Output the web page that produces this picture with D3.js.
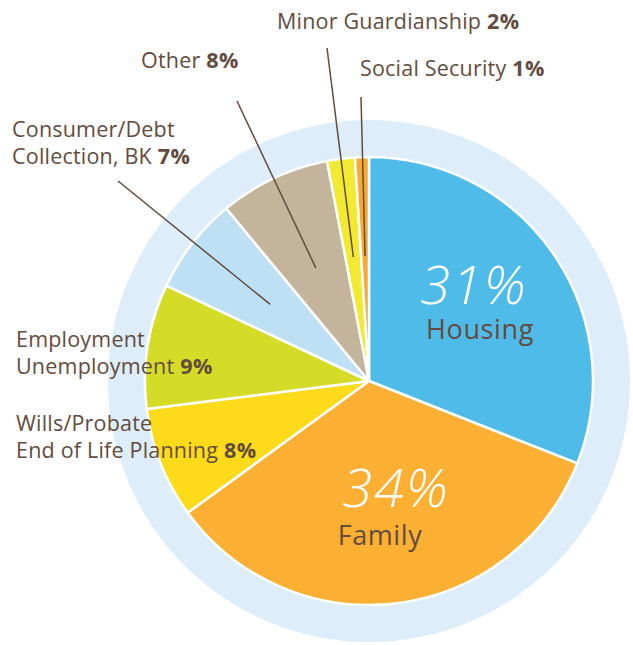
<!DOCTYPE html>
<html>
<head>
<meta charset="utf-8">
<script src="https://cdn.jsdelivr.net/npm/d3@7"></script>
<style>
  body { margin: 0; background: #fff; }
  text { font-family: "Open Sans", sans-serif; }
</style>
</head>
<body>
<svg width="633" height="645"></svg>
<script>
// chart data
var categories = ["Housing", "Family", "Wills/Probate", "Employment", "Consumer/Debt", "Other", "Minor Guardianship", "Social Security"];
var percents = [31, 34, 8, 9, 7, 8, 2, 1];
var colors = ["#4fbbe9", "#fbb034", "#fddb1a", "#d4dc27", "#bde0f5", "#c4b49b", "#f2ea30", "#f8a930"];

function main() {
    var svg = d3.select("svg");
    var cx = 369, cy = 381;
    var radius = 224;
    var brown = "#634b3e";

    var g = svg.append("g").attr("transform", "translate(" + cx + "," + cy + ")");

    // pale ring behind the pie
    g.append("circle").attr("r", 261).attr("fill", "#ddeefa");

    var pie = d3.pie().sort(null).value(d => d);
    var arcs = pie(percents);
    var arc = d3.arc().innerRadius(0).outerRadius(radius);

    g.selectAll(".slice")
        .data(arcs)
        .enter().append("path")
        .attr("class", "slice")
        .attr("d", arc)
        .attr("fill", (d, i) => colors[i])
        .attr("stroke", "#fff")
        .attr("stroke-width", 2.5)
        .attr("stroke-linejoin", "round");

    // leader lines for the small slices (label anchor -> inside the slice)
    var leaders = [
        { idx: 4, x: 118, y: 181 },
        { idx: 5, x: 237, y: 101 },
        { idx: 6, x: 327, y: 48 },
        { idx: 7, x: 361, y: 97 }
    ];
    leaders.forEach(function (l) {
        var a = arcs[l.idx];
        var mid = (a.startAngle + a.endAngle) / 2;
        var r = 125;
        svg.append("line")
            .attr("x1", l.x).attr("y1", l.y)
            .attr("x2", cx + Math.sin(mid) * r)
            .attr("y2", cy - Math.cos(mid) * r)
            .attr("stroke", brown)
            .attr("stroke-width", 1.5);
    });

    // small outside labels
    var outside = [
        { lines: ["Minor Guardianship "], idx: 6, x: 277, y: 29 },
        { lines: ["Other "], idx: 5, x: 141, y: 68 },
        { lines: ["Social Security "], idx: 7, x: 360, y: 76 },
        { lines: ["Consumer/Debt", "Collection, BK "], idx: 4, x: 12, y: 137 },
        { lines: ["Employment", "Unemployment "], idx: 3, x: 16, y: 347 },
        { lines: ["Wills/Probate", "End of Life Planning "], idx: 2, x: 16, y: 431 }
    ];
    outside.forEach(function (o) {
        o.lines.forEach(function (line, j) {
            var t = svg.append("text")
                .attr("x", o.x)
                .attr("y", o.y + j * 26.5)
                .attr("font-size", "21.5px")
                .attr("letter-spacing", "0.2px")
                .attr("fill", brown)
                .text(line);
            if (j === o.lines.length - 1) {
                t.append("tspan")
                    .attr("font-weight", "bold")
                    .attr("letter-spacing", "0.6px")
                    .text(percents[o.idx] + "%");
            }
        });
    });

    // big inside labels
    var inside = [
        { idx: 0, name: "Housing", x: 474, y: 304, nx: 480, ny: 339 },
        { idx: 1, name: "Family", x: 396, y: 507, nx: 380, ny: 545 }
    ];
    inside.forEach(function (o) {
        svg.append("text")
            .attr("x", o.x).attr("y", o.y)
            .attr("text-anchor", "middle")
            .attr("font-size", "54px")
            .attr("font-style", "italic")
            .attr("font-weight", 300)
            .attr("letter-spacing", "2px")
            .attr("fill", "#fff")
            .text(percents[o.idx] + "%");
        svg.append("text")
            .attr("x", o.nx).attr("y", o.ny)
            .attr("text-anchor", "middle")
            .attr("font-size", "27px")
            .attr("letter-spacing", "0.6px")
            .attr("fill", brown)
            .text(o.name);
    });
}
main();
</script>
</body>
</html>
